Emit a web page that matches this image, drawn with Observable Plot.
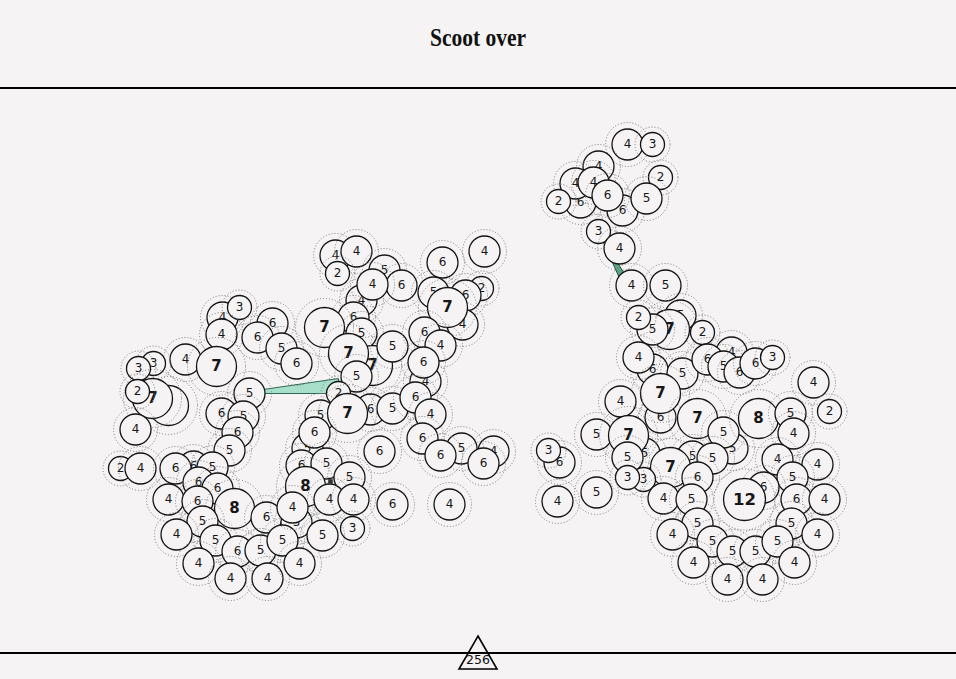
<!DOCTYPE html>
<html><head><meta charset="utf-8">
<script src="https://cdn.jsdelivr.net/npm/d3@7"></script>
<script src="https://cdn.jsdelivr.net/npm/@observablehq/plot@0.6"></script>
<style>
html,body{margin:0;padding:0;background:#f5f3f4;width:956px;height:679px;overflow:hidden}
#title{height:87px;border-bottom:2px solid #000;position:relative}
#title h1{margin:0;position:absolute;top:25px;left:0;right:0;text-align:center;font-family:"Liberation Serif",serif;font-weight:bold;font-size:25px;line-height:1;transform:scaleX(0.86);color:#111}
#chart svg{display:block}
#footer{position:relative;height:25px;border-top:2px solid #000}
#footer svg{position:absolute;left:458px;top:-19px;overflow:visible}
</style></head><body>
<div id="title"><h1>Scoot over</h1></div>
<div id="chart"></div>
<div id="footer"></div>
<script>
// ---- data ----
const nodeX = [
335,356,337,384,401,361,372,353,361,324,372,348,392,356,338,307,320,370,392,347,314,
442,484,433,481,465,462,447,424,440,425,423,415,430,422,493,461,440,483,379,392,449,
222,239,221,272,257,281,296,185,216,153,138,168,152,137,249,221,243,237,135,229,120,140,
193,175,212,198,217,168,197,234,202,266,176,215,237,260,296,282,198,230,267,299,
301,326,305,292,349,329,353,352,322,
627,652,660,598,580,575,593,558,622,607,646,598,619,631,665,680,669,652,638,702,
652,638,682,731,707,723,739,755,772,660,660,620,697,732,723,758,790,793,813,829,
596,644,628,559,548,627,692,712,670,697,643,627,557,596,663,691,777,817,792,763,744,
796,824,697,791,817,672,712,732,755,777,693,794,727,762
];
const nodeY = [
255,251,273,270,285,300,284,317,333,327,365,353,346,376,393,448,415,409,408,413,432,
262,251,292,288,295,324,307,332,345,381,362,397,414,438,451,448,455,463,451,504,504,
317,307,334,323,337,348,363,359,366,363,368,405,398,391,393,413,416,432,429,450,468,468,
466,468,467,482,488,499,501,508,521,517,534,540,551,550,522,540,563,578,578,563,
465,463,486,507,477,499,499,528,535,
144,144,177,166,202,183,182,201,210,195,198,231,248,285,285,315,329,329,317,332,
369,357,373,352,359,366,372,363,357,417,393,401,418,448,432,418,413,433,382,411,
434,453,435,462,450,457,456,458,467,477,479,477,501,492,498,499,459,464,477,487,499,
499,499,523,523,534,534,541,551,551,541,562,562,579,579
];
const nodeValue = [
4,4,2,5,6,4,4,6,5,7,7,7,5,5,2,5,5,6,5,7,6,
6,4,5,2,6,4,7,6,4,4,6,6,4,6,4,5,6,6,6,6,4,
4,3,4,6,6,5,6,4,7,3,3,7,7,2,5,6,5,6,4,5,2,4,
6,6,5,6,6,4,6,8,5,6,4,5,6,5,5,5,4,4,4,4,
6,5,8,4,5,4,4,3,5,
4,3,2,4,6,4,4,2,6,6,5,3,4,4,5,5,7,5,2,2,
6,4,5,4,6,5,6,6,3,6,7,4,7,5,5,8,5,4,4,2,
5,5,7,6,3,5,5,5,7,6,3,3,4,5,4,5,4,4,5,6,12,
6,4,5,5,4,4,5,5,5,5,4,4,4,4
];
// links between nodes (indices), with start / end widths
const linkSource = [56, 106];
const linkTarget = [14, 104];
const linkWidthStart = [2, 8];
const linkWidthEnd = [15, 0];
// small markers
const pinX = [330];
const pinY = [481];
const totalLabel = ["256"];

// ---- chart ----
const bg = "#f5f3f4";
const nodes = nodeX.map((x, i) => ({x, y: nodeY[i], v: nodeValue[i]}));
const ringRadius = v => v < 4 ? 17.5 : v < 7 ? 22 : v < 9 ? 29 : 30.5;
const linkFill = ["#a8dfca", "#5ba584"];
const linkStroke = ["#2e6a52", "#23563f"];

const marks = [];
linkSource.forEach((s, i) => {
  const a = nodes[s], b = nodes[linkTarget[i]];
  const dx = b.x - a.x, dy = b.y - a.y, L = Math.hypot(dx, dy);
  const nx = dy / L, ny = -dx / L;
  const w0 = linkWidthStart[i], w1 = linkWidthEnd[i];
  const poly = [
    {x: a.x, y: a.y}, {x: b.x, y: b.y},
    {x: b.x + nx * w1, y: b.y + ny * w1}, {x: a.x + nx * w0, y: a.y + ny * w0}
  ];
  marks.push(Plot.line(poly, {x: "x", y: "y", curve: "linear-closed", fill: linkFill[i], stroke: linkStroke[i], strokeWidth: 1}));
});
for (const d of nodes) {
  marks.push(Plot.dot([d], {x: "x", y: "y", r: ringRadius(d.v), fill: "none", stroke: "#7a7a7a", strokeWidth: 1, strokeDasharray: "1,2"}));
  marks.push(Plot.dot([d], {x: "x", y: "y", r: "v", fill: bg, stroke: "#141414", strokeWidth: 1.3, sort: null}));
  marks.push(Plot.text([d], {x: "x", y: "y", text: "v",
    fontSize: d.v >= 9 ? 16.5 : d.v >= 7 ? 15 : 12,
    fontWeight: d.v >= 7 ? "bold" : "normal",
    fontFamily: "DejaVu Sans", fill: "#161616"}));
}
marks.push(Plot.dot(pinX.map((x, i) => ({x, y: pinY[i]})), {x: "x", y: "y", symbol: "square", r: 2.6, fill: "#333"}));

const chart = Plot.plot({
  width: 956, height: 563, margin: 0,
  style: {background: "transparent", overflow: "visible"},
  x: {domain: [0, 956], range: [0, 956], axis: null},
  y: {domain: [89, 652], range: [0, 563], axis: null},
  r: {type: "threshold", domain: [4, 7, 9], range: [12, 15.5, 20, 21]},
  marks
});
document.getElementById("chart").append(chart);

// footer badge
const ns = "http://www.w3.org/2000/svg";
const fs = document.createElementNS(ns, "svg");
fs.setAttribute("width", 40); fs.setAttribute("height", 36);
const tri = document.createElementNS(ns, "polygon");
tri.setAttribute("points", "20,1 39,34 1,34");
tri.setAttribute("fill", "none"); tri.setAttribute("stroke", "#000"); tri.setAttribute("stroke-width", "1.6");
fs.append(tri);
const tt = document.createElementNS(ns, "text");
tt.setAttribute("x", 20); tt.setAttribute("y", 28.5);
tt.setAttribute("text-anchor", "middle");
tt.setAttribute("font-family", "DejaVu Sans"); tt.setAttribute("font-size", "12.5");
tt.setAttribute("fill", "#111");
tt.textContent = totalLabel[0];
fs.append(tt);
document.getElementById("footer").append(fs);
</script></body></html>
